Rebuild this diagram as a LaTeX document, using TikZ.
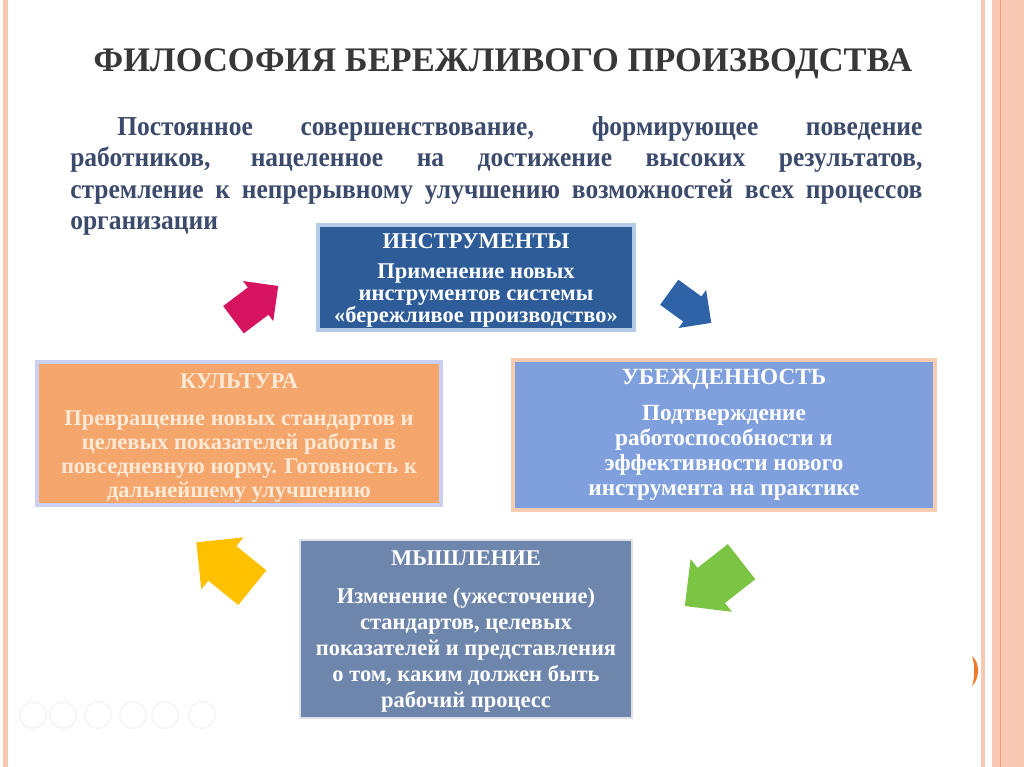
\documentclass[tikz,border=0pt]{standalone}
\usepackage{fontspec}
\setmainfont{Liberation Serif}
\newfontfamily\introfont{Liberation Serif}[FakeStretch=0.93]
\usetikzlibrary{positioning,shapes.arrows}

\definecolor{titlegray}{HTML}{383838}
\definecolor{introblue}{HTML}{3C4A6C}
\definecolor{toolsfill}{HTML}{2E5C98}
\definecolor{toolsglow}{HTML}{B4CAE6}
\definecolor{cultfill}{HTML}{F4A66C}
\definecolor{cultglow}{HTML}{CBCFF2}
\definecolor{culttext}{HTML}{FCEAD6}
\definecolor{belieffill}{HTML}{7FA0DC}
\definecolor{beliefglow}{HTML}{F6CDB0}
\definecolor{thinkfill}{HTML}{6E86AC}
\definecolor{thinkglow}{HTML}{DDE2EA}
\definecolor{pinkarr}{HTML}{D6135F}
\definecolor{bluearr}{HTML}{2E63A8}
\definecolor{greenarr}{HTML}{7CC444}
\definecolor{yellowarr}{HTML}{FFC000}
\definecolor{stripe}{HTML}{F9C8B2}
\definecolor{stripedark}{HTML}{E9A07A}
\definecolor{dotorange}{HTML}{EE7A2A}

\tikzset{
    box/.style = {
        draw,
        shape=rectangle,
        align=center,
        line width=3pt,
        inner sep=2pt,
        text=white,
        font=\bfseries\fontsize{16}{17}\selectfont
    },
    cyc/.style = {
        shape=single arrow,
        draw=none,
        inner xsep=0pt,
        inner ysep=0.42cm,
        single arrow head extend=0.2cm,
        minimum height=1.4cm
    },
    cycbig/.style = {
        cyc,
        inner ysep=0.55cm,
        single arrow head extend=0.28cm,
        minimum height=1.8cm
    },
}

\begin{document}
\begin{tikzpicture}[x=0.025cm, y=-0.025cm]
    \useasboundingbox[fill=white] (0,0) rectangle (1024,767);

    % slide frame
    \fill[stripe] (3,0) rectangle (8,767);
    \fill[stripe] (981,0) rectangle (985,767);
    \fill[stripe] (992,0) rectangle (1024,767);
    \draw[stripedark, line width=0.6pt] (1000,0) -- (1000,767);
    \fill[dotorange] (972,656) .. controls (980,662) and (980,679) .. (972,686)
        .. controls (975,678) and (975,664) .. cycle;

    \node[text=titlegray, font=\bfseries\fontsize{24.5}{28}\selectfont]
        (title) at (503,64) {ФИЛОСОФИЯ БЕРЕЖЛИВОГО ПРОИЗВОДСТВА};
    \node[anchor=north west, inner sep=0pt, text width=21.3cm, align=justify,
        text=introblue, font=\introfont\bfseries\fontsize{19.5}{22.3}\selectfont]
        (intro) at (70,116) {\hspace*{1.175cm}Постоянное совершенствование, формирующее поведение\linebreak
        работников, нацеленное на достижение высоких результатов,\linebreak
        стремление к непрерывному улучшению возможностей всех процессов\linebreak
        организации};

    \node[box, fill=toolsfill, draw=toolsglow, minimum width=7.9cm, minimum height=2.625cm,
        font=\bfseries\fontsize{16}{15.6}\selectfont]
        (tools) at (476,277.5) {\rule{0pt}{15pt}ИНСТРУМЕНТЫ\\[6pt]Применение новых\\инструментов системы\\«бережливое производство»};
    \node[box, fill=cultfill, draw=cultglow, text=culttext, minimum width=10.1cm, minimum height=3.575cm]
        (culture) at (239,433.5) {\rule{0pt}{17pt}КУЛЬТУРА\\[9pt]Превращение новых стандартов и\\целевых показателей работы в\\повседневную норму. Готовность к\\дальнейшему улучшению};
    \node[box, fill=belieffill, draw=beliefglow, minimum width=10.55cm, minimum height=3.75cm,
        font=\bfseries\fontsize{16.5}{17.8}\selectfont]
        (belief) at (724,435) {УБЕЖДЕННОСТЬ\\[8pt]Подтверждение\\работоспособности и\\эффективности нового\\инструмента на практике};
    \node[box, fill=thinkfill, draw=thinkglow, line width=2pt, minimum width=8.3cm, minimum height=4.45cm,
        font=\bfseries\fontsize{16}{18.5}\selectfont]
        (thinking) at (466,629) {\rule{0pt}{14pt}МЫШЛЕНИЕ\\[8pt]Изменение (ужесточение)\\стандартов, целевых\\показателей и представления\\о том, каким должен быть\\рабочий процесс};

    % cycle arrows
    \node[cyc, fill=pinkarr, rotate=37] (c2t) at (249,308) {};
    \node[cyc, fill=bluearr, rotate=-36, inner ysep=0.38cm, minimum height=1.3cm] (t2b) at (684,303) {};
    \node[cycbig, fill=greenarr, rotate=218] (b2m) at (722,577) {};
    \node[cycbig, fill=yellowarr, rotate=141] (m2c) at (233,572) {};

    % player buttons
    \foreach \x in {33,63,98,133,165,202}
        \draw[gray!9, line width=1pt] (\x,715) circle (0.33cm);
\end{tikzpicture}
\end{document}
